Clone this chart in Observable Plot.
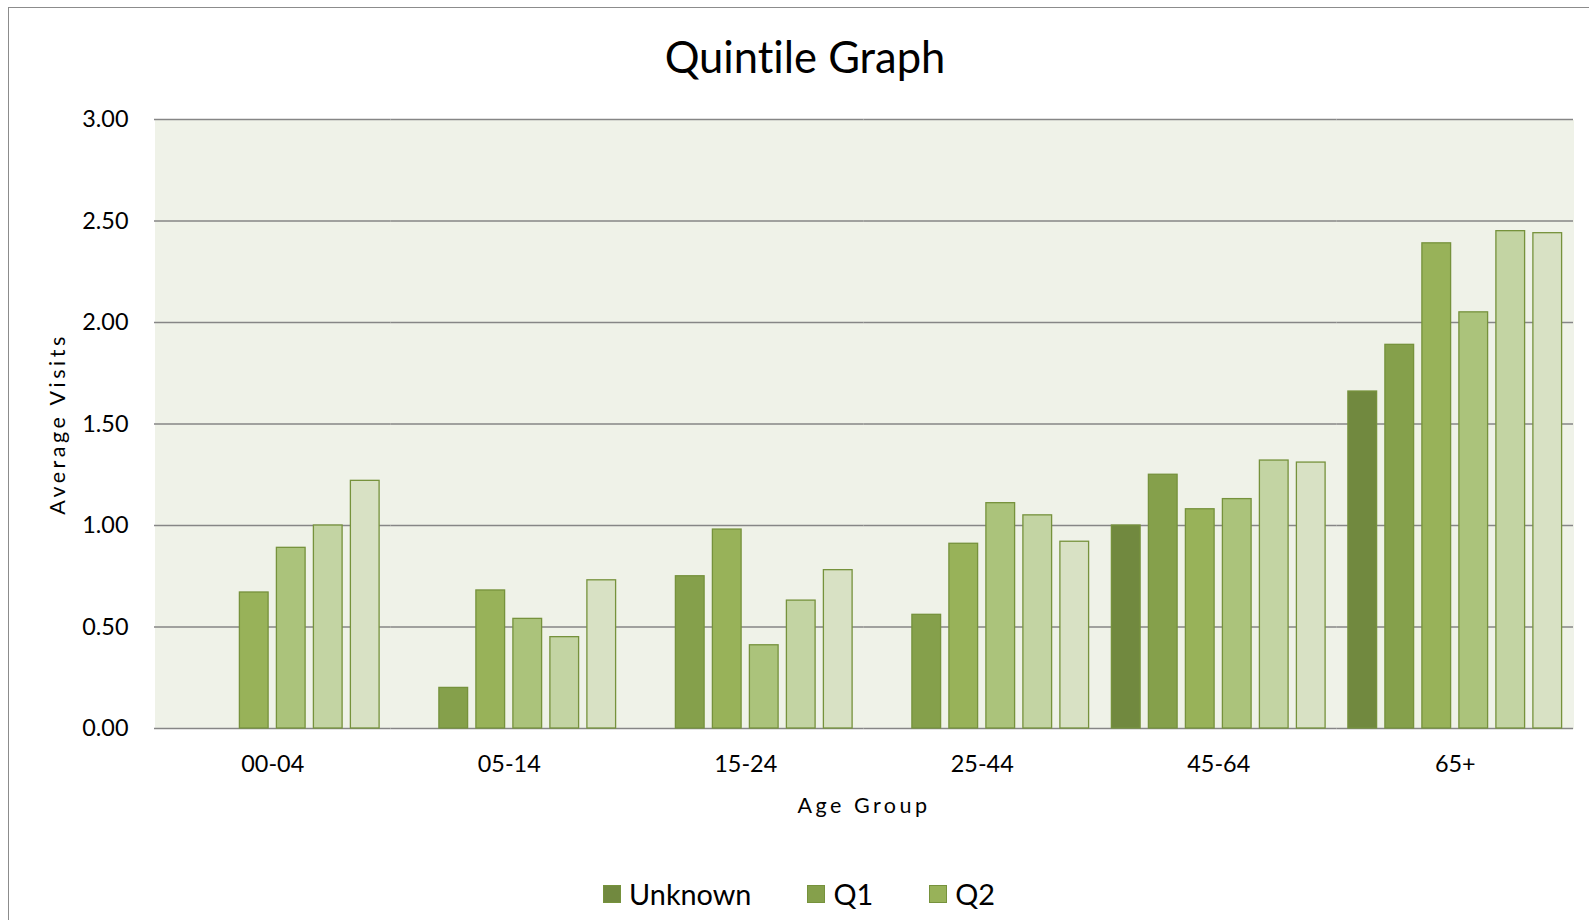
<!DOCTYPE html>
<html><head><meta charset="utf-8">
<script src="https://cdn.jsdelivr.net/npm/d3@7"></script>
<script src="https://cdn.jsdelivr.net/npm/@observablehq/plot@0.6"></script>
<style>
html,body{margin:0;padding:0;background:#fff;}
#wrap{position:relative;width:1589px;height:920px;overflow:hidden;font-family:Lato,"Open Sans",sans-serif;color:#000;font-variant-ligatures:none;}
#border{position:absolute;left:7.5px;top:6.5px;width:1700px;height:1100px;border:1.5px solid #8c8c8c;}
#title{position:absolute;left:0;width:1610px;top:35px;text-align:center;font-size:43.5px;line-height:1;font-variant-ligatures:none;font-feature-settings:"liga" 0;}
#chart{position:absolute;left:0;top:100px;}
#chart svg text{font-variant-ligatures:none;}
#legend{position:absolute;left:0;width:1598px;top:880px;display:flex;justify-content:center;gap:56px;font-size:28.8px;line-height:1;}
.item{display:flex;align-items:center;}
.sw{width:18px;height:18px;box-sizing:border-box;border:1.3px solid #76923c;margin-right:8px;}
</style></head>
<body><div id="wrap"><div id="border"></div><div id="title">Quintile Graph</div><div id="chart"></div><div id="legend"></div></div>
<script>
const groups = ["00-04", "05-14", "15-24", "25-44", "45-64", "65+"];
const series = ["Unknown", "Q1", "Q2", "Q3", "Q4", "Q5"];
const unknownVals = [null, null, null, null, 1.00, 1.66];
const q1Vals = [null, 0.20, 0.75, 0.56, 1.25, 1.89];
const q2Vals = [0.67, 0.68, 0.98, 0.91, 1.08, 2.39];
const q3Vals = [0.89, 0.54, 0.41, 1.11, 1.13, 2.05];
const q4Vals = [1.00, 0.45, 0.63, 1.05, 1.32, 2.45];
const q5Vals = [1.22, 0.73, 0.78, 0.92, 1.31, 2.44];
const yTicks = [0, 0.5, 1, 1.5, 2, 2.5, 3];
const colors = ["#71893f", "#85a04b", "#98b259", "#abc37b", "#c3d4a3", "#d8e1c4"];
const legendShown = ["Unknown", "Q1", "Q2"];

const seriesValues = [unknownVals, q1Vals, q2Vals, q3Vals, q4Vals, q5Vals];
const data = [];
groups.forEach((g, i) => series.forEach((s, j) => {
  const v = seriesValues[j][i];
  if (v != null) data.push({group: g, series: s, value: v});
}));

const chart = Plot.plot({
  width: 1589, height: 740,
  marginTop: 19, marginBottom: 112, marginLeft: 154, marginRight: 16,
  style: {fontFamily: "Lato, sans-serif", color: "#000", background: "transparent", overflow: "visible"},
  fx: {domain: groups, padding: 0, round: false},
  x: {domain: series, paddingInner: 0.224, paddingOuter: 0.308, round: false, axis: null},
  y: {domain: [0, 3]},
  color: {domain: series, range: colors},
  marks: [
    Plot.frame({fill: "#eff2e8", stroke: null, shapeRendering: "crispEdges"}),
    Plot.gridY(yTicks, {stroke: "#868686", strokeOpacity: 1, strokeWidth: 1.5}),
    Plot.barY(data, {fx: "group", x: "series", y: "value", fill: "series", stroke: "#76923c", strokeWidth: 1.3}),
    Plot.axisY(yTicks, {tickSize: 0, tickPadding: 26, tickFormat: d3.format(".2f"), fontSize: 23.4, label: "Average Visits", labelArrow: "none", labelAnchor: "center", labelOffset: 105}),
    Plot.axisFx({anchor: "bottom", tickSize: 0, tickPadding: 27, fontSize: 23.4, label: "Age Group", labelArrow: "none", labelAnchor: "center", labelOffset: 84})
  ]
});
d3.select(chart).selectAll("text").each(function() {
  const t = this.textContent;
  if (t.startsWith("Age Group") || t.startsWith("Average Visits")) {
    const clean = t.startsWith("Age Group") ? "Age Group" : "Average Visits";
    const sel = d3.select(this);
    const tspans = sel.selectAll("tspan");
    if (tspans.size() > 0) tspans.text(clean); else sel.text(clean);
    sel.style("font-size", "21.5px").style("letter-spacing", "3.5px");
  }
});
document.getElementById("chart").appendChild(chart);

const legend = d3.select("#legend");
legendShown.forEach(s => {
  const it = legend.append("div").attr("class", "item");
  it.append("div").attr("class", "sw").style("background", colors[series.indexOf(s)]);
  it.append("span").text(s);
});
</script>
</body></html>
